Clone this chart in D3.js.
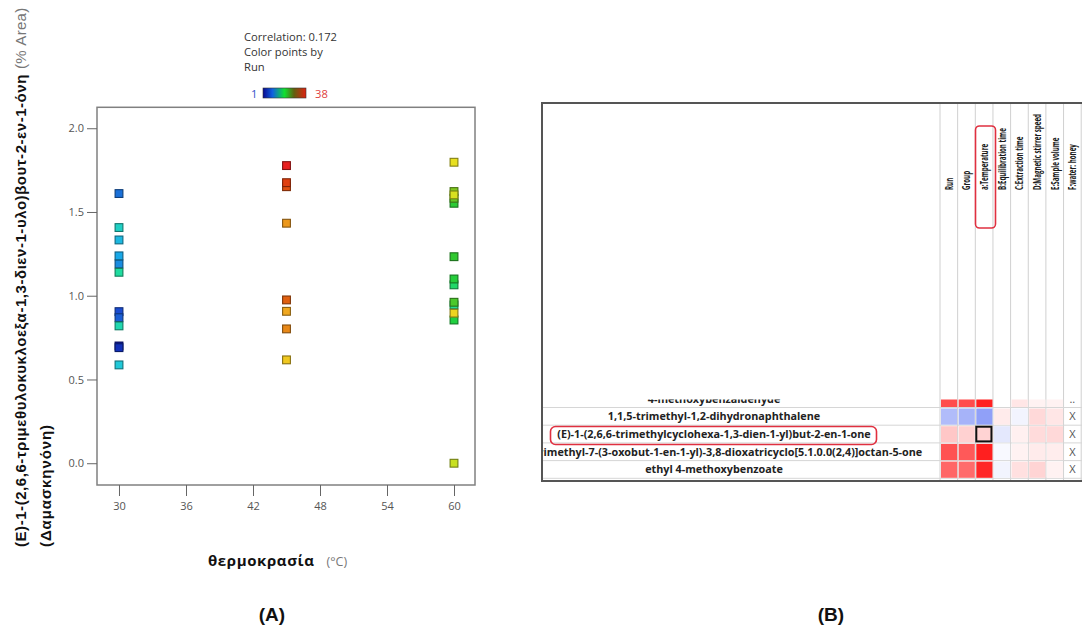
<!DOCTYPE html>
<html><head><meta charset="utf-8">
<script src="https://cdn.jsdelivr.net/npm/d3@7"></script>
<style>body{margin:0;background:#fff}svg{display:block}</style>
</head><body>
<svg id="chart" width="1082" height="628"></svg>
<script>
// ---------- Panel A: damascenone response vs. temperature, coloured by run ----------
const runs = [1,2,3,4,5,6,7,8,9,10,11,12, 13,14,15,16,17,18,19,20,21,23,24,25,26, 27,29,30,31,33,34,35,38];
const temperature = [30,30,30,30,30,30,30,30,30,30,30,30, 60,60,60,60,60,60,60,60,60,60,60,60,60, 45,45,45,45,45,45,45,45];
const damascenone = [0.70,0.69,0.905,0.869,1.61,1.19,1.238,1.333,0.587,1.407,0.82,1.14,
                     0.945,1.065,0.855,1.10,1.552,1.233,0.961,1.582,1.622,0.0,1.602,1.797,0.896,
                     0.617,0.907,1.433,0.802,0.975,1.651,1.675,1.777];
const xTicks = [30,36,42,48,54,60];
const yTicks = [0.0,0.5,1.0,1.5,2.0];
const runStops  = [1,3,5,7,9,11,13,15,18,21,23,25,27,29,31,33,35,38];
const runColors = ["#0a14a0","#1a4cd0","#1a70d8","#18a8e8","#20c8d8","#20d8b0","#20e090","#20d040","#30c830",
                   "#80c820","#c8e020","#e8e020","#f0c820","#f0a820","#e88818","#e06010","#e04010","#e82020"];
const correlationText = "Correlation: 0.172";

// ---------- Panel B: correlation grid ----------
const factorColumns = ["Run","Group","a:Temperature","B:Equilibration time","C:Extraction time",
                       "D:Magnetic stirrer speed","E:Sample volume","F:water: honey"];
const compounds = ["4-methoxybenzaldehyde",
                   "1,1,5-trimethyl-1,2-dihydronaphthalene",
                   "(E)-1-(2,6,6-trimethylcyclohexa-1,3-dien-1-yl)but-2-en-1-one",
                   "2,2,6-trimethyl-7-(3-oxobut-1-en-1-yl)-3,8-dioxatricyclo[5.1.0.0(2,4)]octan-5-one",
                   "ethyl 4-methoxybenzoate"];
// correlation of each compound with the first seven columns
const corrRows = [
  [0.70, 0.70, 0.87, 0.00, 0.10, 0.05, 0.05],
  [-0.35,-0.40,-0.50, 0.08,-0.06, 0.15, 0.10],
  [0.22, 0.18, 0.172,-0.12, 0.06, 0.14, 0.15],
  [0.68, 0.65, 0.88,-0.03, 0.05, 0.08, 0.07],
  [0.60, 0.58, 0.85,-0.06, 0.12, 0.17, 0.05]
];
const ratioMarks = ["..","X","X","X","X"];

const svg = d3.select("#chart");
svg.append("rect").attr("width",1082).attr("height",628).attr("fill","#fff");

// ===== Panel A =====
const x = d3.scaleLinear().domain([28.03, 61.88]).range([97, 475]);
const y = d3.scaleLinear().domain([-0.13, 2.125]).range([485, 107.3]);
const runColor = d3.scaleLinear().domain(runStops).range(runColors).interpolate(d3.interpolateRgb);

const gA = svg.append("g");
gA.append("rect").attr("x",97).attr("y",107.3).attr("width",378).attr("height",377.7)
  .attr("fill","none").attr("stroke","#808080").attr("stroke-width",1.5);

const yAxis = gA.append("g").attr("transform","translate(97,0)")
  .call(d3.axisLeft(y).tickValues(yTicks).tickFormat(d3.format(".1f")).tickSize(10).tickPadding(3));
const xAxis = gA.append("g").attr("transform","translate(0,485)")
  .call(d3.axisBottom(x).tickValues(xTicks).tickSize(11).tickPadding(6));
[yAxis,xAxis].forEach(a=>{
  a.select(".domain").remove();
  a.selectAll("line").attr("stroke","#666");
  a.selectAll("text").attr("fill","#555").style("font-family","'Open Sans',sans-serif").style("font-size","11px");
});

const pts = runs.map((r,i)=>({run:r, t:temperature[i], v:damascenone[i]}));
gA.append("g").selectAll("rect").data(pts).join("rect")
  .attr("x",d=>x(d.t)-3.9).attr("y",d=>y(d.v)-3.9).attr("width",7.8).attr("height",7.8)
  .attr("fill",d=>runColor(d.run))
  .attr("stroke",d=>d3.color(runColor(d.run)).darker(1.6))
  .attr("stroke-width",1.1);

// legend
const leg = svg.append("g").style("font-family","'Open Sans',sans-serif").style("font-size","11.2px").attr("fill","#333");
leg.append("text").attr("x",244).attr("y",40.5).text(correlationText);
leg.append("text").attr("x",244).attr("y",55.5).text("Color points by");
leg.append("text").attr("x",244).attr("y",71).text("Run");
const grad = svg.append("defs").append("linearGradient").attr("id","runbar");
[[0,"#0a0a90"],[0.22,"#1060e0"],[0.5,"#10e030"],[0.72,"#606010"],[1,"#e02010"]].forEach(s=>
  grad.append("stop").attr("offset",s[0]).attr("stop-color",s[1]));
leg.append("rect").attr("x",263).attr("y",88).attr("width",43).attr("height",10)
  .attr("fill","url(#runbar)").attr("stroke","#333").attr("stroke-width",0.6);
leg.append("text").attr("x",251).attr("y",97.5).attr("fill","#3050c8").text(d3.min(runs));
leg.append("text").attr("x",315).attr("y",97.5).attr("fill","#e04040").text(d3.max(runs));

// axis titles
const yt = svg.append("g").style("font-family","'Liberation Sans',Arial,sans-serif");
const t1 = yt.append("text").attr("transform","translate(25.5,547) rotate(-90)")
  .style("font-size","15px").style("font-weight","bold").style("letter-spacing","0.55px").attr("fill","#111");
t1.append("tspan").text("(E)-1-(2,6,6-τριμεθυλοκυκλοεξα-1,3-διεν-1-υλο)βουτ-2-εν-1-όνη");
t1.append("tspan").attr("font-weight","normal").attr("fill","#777").attr("dx",5).style("letter-spacing","0.3px").text("(% Area)");
yt.append("text").attr("transform","translate(50.5,547) rotate(-90)")
  .style("font-size","15px").style("font-weight","bold").style("letter-spacing","0.9px").attr("fill","#111").text("(Δαμασκηνόνη)");

const xt = svg.append("text").attr("x",208).attr("y",566).style("font-family","'Open Sans',sans-serif");
xt.append("tspan").style("font-size","15px").style("font-weight","bold").style("letter-spacing","0.6px").attr("fill","#111").text("θερμοκρασία");
xt.append("tspan").attr("dx",12).style("font-size","12.5px").attr("fill","#777").text("(°C)");

svg.append("text").attr("x",272).attr("y",621).attr("text-anchor","middle")
  .style("font-family","'Liberation Sans',Arial,sans-serif").style("font-size","19px").style("font-weight","bold")
  .attr("fill","#111").text("(A)");
svg.append("text").attr("x",831).attr("y",621).attr("text-anchor","middle")
  .style("font-family","'Liberation Sans',Arial,sans-serif").style("font-size","19px").style("font-weight","bold")
  .attr("fill","#111").text("(B)");

// ===== Panel B =====
const gB = svg.append("g");
const tableLeft = 542, tableTop = 103, tableBottom = 481;
const colX = d3.scaleBand().domain(factorColumns).range([940, 940 + 17.65*factorColumns.length]);
const rowY = d3.scaleBand().domain(compounds).range([389.8, 478.3]);
const corrColor = d3.scaleLinear().domain([-1,0,1]).range(["#2040f0","#ffffff","#ff0000"]);

const clip = svg.append("defs").append("clipPath").attr("id","rowsClip");
clip.append("rect").attr("x",tableLeft+1).attr("y",399.5).attr("width",600).attr("height",tableBottom-399.5);

// column grid lines
gB.selectAll("line.col").data(factorColumns.concat(["_end"])).join("line")
  .attr("x1",(d,i)=>940+i*colX.bandwidth()).attr("x2",(d,i)=>940+i*colX.bandwidth())
  .attr("y1",tableTop).attr("y2",tableBottom).attr("stroke","#d0d0d0").attr("stroke-width",1);

const rowsG = gB.append("g").attr("clip-path","url(#rowsClip)");
// row separators
rowsG.selectAll("line.row").data(compounds).join("line")
  .attr("x1",tableLeft).attr("x2",1082).attr("y1",d=>rowY(d)+rowY.bandwidth()).attr("y2",d=>rowY(d)+rowY.bandwidth())
  .attr("stroke","#d6d6d6");
// heat cells
const cells = [];
compounds.forEach((c,ri)=>corrRows[ri].forEach((v,ci)=>cells.push({c, col:factorColumns[ci], v})));
rowsG.selectAll("rect.cell").data(cells).join("rect")
  .attr("x",d=>colX(d.col)+1).attr("y",d=>rowY(d.c)+1)
  .attr("width",colX.bandwidth()-1.5).attr("height",rowY.bandwidth()-1.5)
  .attr("fill",d=>corrColor(d.v));
// ratio column marks
rowsG.selectAll("text.mark").data(compounds).join("text")
  .attr("x",colX("F:water: honey")+colX.bandwidth()/2).attr("y",d=>rowY(d)+rowY.bandwidth()/2+4)
  .attr("text-anchor","middle").attr("fill","#555")
  .style("font-family","'Open Sans',sans-serif").style("font-size","11px")
  .text((d,i)=>ratioMarks[i]);
// compound names
rowsG.selectAll("text.name").data(compounds).join("text")
  .attr("x",714).attr("y",d=>rowY(d)+rowY.bandwidth()/2+4)
  .attr("text-anchor","middle").attr("fill","#222")
  .style("font-family","'Open Sans',sans-serif").style("font-size","10.8px").style("font-weight","bold")
  .text(d=>d);

// selected cell outline
const sel = compounds[2];
gB.append("rect").attr("x",colX("a:Temperature")+1).attr("y",rowY(sel)+1.5)
  .attr("width",colX.bandwidth()-2.5).attr("height",rowY.bandwidth()-3)
  .attr("fill","none").attr("stroke","#111").attr("stroke-width",2);

// column headers (rotated, condensed along the reading direction)
gB.selectAll("text.head").data(factorColumns).join("text")
  .attr("transform",d=>`translate(${colX(d)+colX.bandwidth()/2+3.8},190) rotate(-90) scale(0.62,1)`)
  .attr("fill","#1a1a1a").style("font-family","'Open Sans',sans-serif").style("font-size","10px").style("font-weight","bold")
  .text(d=>d);

// highlight outlines
gB.append("rect").attr("x",975.5).attr("y",126).attr("width",20).attr("height",102).attr("rx",4)
  .attr("fill","none").attr("stroke","#e03040").attr("stroke-width",1.6);
gB.append("rect").attr("x",550.5).attr("y",426.5).attr("width",326).attr("height",18).attr("rx",5)
  .attr("fill","none").attr("stroke","#e03040").attr("stroke-width",1.6);

// table frame
gB.append("rect").attr("x",tableLeft).attr("y",tableTop).attr("width",560).attr("height",tableBottom-tableTop)
  .attr("fill","none").attr("stroke","#555").attr("stroke-width",2);
</script>
</body></html>
